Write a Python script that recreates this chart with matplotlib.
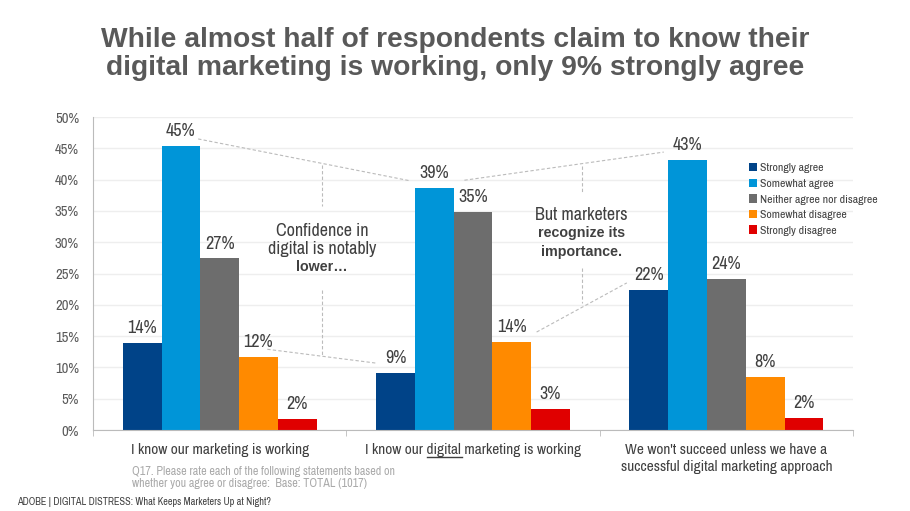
import numpy as np
import matplotlib
matplotlib.use('Agg')
import matplotlib.pyplot as plt
from matplotlib.lines import Line2D

# data
categories = ['I know our marketing is working',
              'I know our digital marketing is working',
              "We won't succeed unless we have a\nsuccessful digital marketing approach"]
series = ['Strongly agree', 'Somewhat agree', 'Neither agree nor disagree',
          'Somewhat disagree', 'Strongly disagree']
strongly_agree = [13.9, 9.1, 22.4]
somewhat_agree = [45.3, 38.6, 43.1]
neither = [27.4, 34.8, 24.2]
somewhat_disagree = [11.7, 14.1, 8.4]
strongly_disagree = [1.7, 3.4, 1.9]
values = [strongly_agree, somewhat_agree, neither, somewhat_disagree, strongly_disagree]
colors = ['#004388', '#0095D8', '#6D6D6D', '#FF8A00', '#E00000']

plt.rcParams['font.family'] = ['Archivo Narrow', 'Liberation Sans', 'DejaVu Sans']
bold_font = ['Liberation Sans', 'DejaVu Sans']

fig = plt.figure(figsize=(9.1, 5.11), dpi=100)
ax = fig.add_axes([0.1022, 0.1585, 0.8352, 0.6125])

x = np.arange(len(categories))
w = 0.153
for i, (vals, c, name) in enumerate(zip(values, colors, series)):
    b = ax.bar(x + (i - 2) * w, vals, w, color=c, label=name)
    ax.bar_label(b, fmt='%.0f%%', padding=5, fontsize=13, color='#404040')

ax.set_xlim(-0.5, 2.5)
ax.set_ylim(0, 50)
ax.set_yticks(np.arange(0, 51, 5))
ax.set_yticklabels(['%d%%' % v for v in range(0, 51, 5)], fontsize=10.5, color='#595959')
ax.yaxis.grid(True, color='#EEEEEE', lw=1)
ax.set_axisbelow(True)
ax.tick_params(axis='y', length=0, pad=10)
for s in ['top', 'right']:
    ax.spines[s].set_visible(False)
ax.spines['left'].set_color('#BBBBBB')
ax.spines['bottom'].set_color('#BBBBBB')

ax.set_xticks(x)
ax.set_xticklabels(categories, fontsize=11, color='#404040', linespacing=1.3)
ax.tick_params(axis='x', length=0, pad=9)
ax.set_xticks([-0.5, 0.5, 1.5, 2.5], minor=True)
ax.tick_params(axis='x', which='minor', length=4, color='#BBBBBB')

# underline under "digital"
ax.add_line(Line2D([0.82, 0.958], [-4.3, -4.3], color='#404040', lw=1, clip_on=False))

# annotations
dash = dict(color='#BBBBBB', lw=0.8, ls=(0, (3, 2)))
ax.plot([-0.085, 0.753], [46.5, 39.8], **dash)
ax.plot([0.966, 1.753], [39.9, 44.4], **dash)
ax.plot([0.188, 0.615], [12.9, 10.7], **dash)
ax.plot([1.251, 1.607], [15.65, 23.5], **dash)
ax.plot([0.405, 0.405], [42.3, 35.8], **dash)
ax.plot([0.405, 0.405], [22.4, 12.0], **dash)
ax.plot([1.429, 1.429], [42.2, 38.0], **dash)
ax.plot([1.429, 1.429], [25.9, 20.3], **dash)

txt = dict(ha='center', va='center', fontsize=13, color='#404040')
btxt = dict(ha='center', va='center', fontsize=10.3, color='#404040',
            fontweight='bold', family=bold_font)
ax.text(0.405, 31.8, 'Confidence in', **txt)
ax.text(0.405, 28.9, 'digital is notably', **txt)
ax.text(0.405, 26.0, 'lower…', **btxt)
ax.text(1.429, 34.3, 'But marketers', **txt)
ax.text(1.429, 31.5, 'recognize its', **btxt)
ax.text(1.429, 28.4, 'importance.', **btxt)

ax.legend(loc='upper left', bbox_to_anchor=(0.818, 0.69), bbox_transform=fig.transFigure,
          frameon=False, fontsize=8.5, handlelength=0.7, handleheight=0.7,
          handletextpad=0.2, labelspacing=0.45, borderaxespad=0, labelcolor='#404040')

fig.text(0.5, 1 - 47 / 511, 'While almost half of respondents claim to know their', ha='center',
         va='baseline', fontsize=20.3, fontweight='bold', color='#595959', family=bold_font)
fig.text(0.5, 1 - 75 / 511, 'digital marketing is working, only 9% strongly agree', ha='center',
         va='baseline', fontsize=20.3, fontweight='bold', color='#595959', family=bold_font)

fig.text(132 / 910, 1 - 477.5 / 511, 'Q17. Please rate each of the following statements based on\n'
         'whether you agree or disagree:  Base: TOTAL (1017)', ha='left', va='center',
         fontsize=8.7, color='#AAAAAA', linespacing=1.2)
fig.text(17 / 910, 1 - 502 / 511, 'ADOBE | DIGITAL DISTRESS: What Keeps Marketers Up at Night?',
         ha='left', va='center', fontsize=7.4, color='#404040')

fig.savefig('out.png', dpi=100)
